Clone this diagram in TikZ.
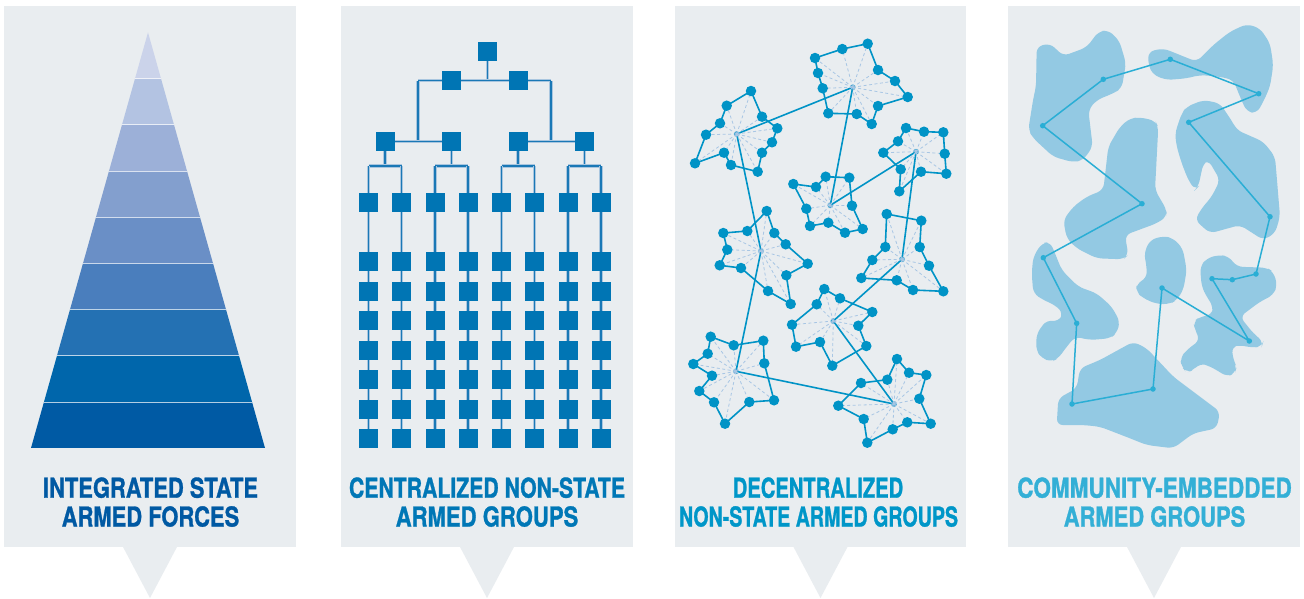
\documentclass[tikz,border=0pt]{standalone}
\usepackage{fontspec}
\usetikzlibrary{calc}
\newfontfamily\labelfont[BoldFeatures={FakeBold=1.2}]{TeX Gyre Heros}
\definecolor{panelbg}{HTML}{E9EDF0}
\definecolor{pyrA}{HTML}{CBD3EA}
\definecolor{pyrB}{HTML}{B3C3E2}
\definecolor{pyrC}{HTML}{9CB0D8}
\definecolor{pyrD}{HTML}{839FCE}
\definecolor{pyrE}{HTML}{6A8FC6}
\definecolor{pyrF}{HTML}{4A7EBD}
\definecolor{pyrG}{HTML}{2471B3}
\definecolor{pyrH}{HTML}{0066AB}
\definecolor{pyrI}{HTML}{005AA4}
\definecolor{txtA}{HTML}{0059A3}
\definecolor{txtB}{HTML}{0077B6}
\definecolor{txtC}{HTML}{0096C8}
\definecolor{txtD}{HTML}{33AFD6}
\definecolor{sqcol}{HTML}{0075B4}
\definecolor{treeline}{HTML}{1A78B6}
\definecolor{treehalo}{HTML}{A9C6DF}
\definecolor{netcol}{HTML}{0093C6}
\definecolor{spokecol}{HTML}{A8C6E4}
\definecolor{blobcol}{HTML}{93C9E3}
\definecolor{pathcol}{HTML}{2AAED5}
\pgfdeclarelayer{panel}
\pgfdeclarelayer{links}
\pgfsetlayers{panel,links,main}
\newcommand{\lbltext}[2]{\resizebox{#1pt}{20.3pt}{\labelfont\bfseries #2}}
\tikzset{
  lbl/.style={anchor=base, inner sep=0pt},
  sq/.style={rectangle, fill=sqcol, minimum size=19pt, inner sep=0pt},
  tline/.style={draw=treeline, line width=1.9pt, preaction={draw=treehalo, line width=3.6pt}},
  dot/.style={circle, fill=netcol, minimum size=10.5pt, inner sep=0pt},
  hub/.style={circle, fill=netcol, minimum size=5.5pt, inner sep=0pt},
  netline/.style={draw=netcol, line width=1.6pt, line join=round},
  spoke/.style={draw=spokecol, line width=0.8pt, dash pattern=on 3pt off 2.5pt},
  blob/.style={fill=blobcol, rounded corners=6pt},
  pdot/.style={circle, fill=pathcol, minimum size=5.5pt, inner sep=0pt},
  pline/.style={draw=pathcol, line width=1.5pt, line join=round}
}
\newcommand{\netcluster}[3]{%
  \node[hub] (#1c) at (#2) {};
  \foreach[count=\i] \x/\y in {#3} {\coordinate (#1-\i) at (\x,\y); \xdef\clustn{\i}}
  \foreach \j in {1,...,\clustn} {\draw[spoke] (#1c.center) -- (#1-\j);}
  \draw[netline] (#1-1) \foreach \j in {2,...,\clustn} {-- (#1-\j)} -- cycle;
  \foreach \j in {1,...,\clustn} {\node[dot] (#1n\j) at (#1-\j) {};}
}
\newcommand{\panelbox}[3]{%
  \begin{pgfonlayer}{panel}
  \fill[panelbg] (#1,6) rectangle (#2,547);
  \fill[panelbg] (#3-27.5,546) -- (#3+27.5,546) -- (#3,598) -- cycle;
  \end{pgfonlayer}
}
\begin{document}
\begin{tikzpicture}[x=1pt,y=-1pt]
\useasboundingbox (0,0) rectangle (1304,598);
\begin{pgfonlayer}{panel}
\fill[white] (0,0) rectangle (1304,598);
\end{pgfonlayer}
% panels
\panelbox{4}{296}{150}
\panelbox{341}{633}{487}
\panelbox{675}{966}{820.5}
\panelbox{1008}{1300}{1154}

% ---------- panel 1: pyramid ----------
\begin{scope}
\clip (148,32.4) -- (265,448) -- (31,448) -- cycle;
\foreach \c [count=\k from 0] in {pyrA,pyrB,pyrC,pyrD,pyrE,pyrF,pyrG,pyrH,pyrI}{
  \fill[\c] (25,32.4+46.18*\k) rectangle (270,32.4+46.18*\k+46.18);
}
\foreach \k in {1,...,8}{
  \draw[white, opacity=0.7, line width=0.6pt] (25,32.4+46.18*\k) -- (270,32.4+46.18*\k);
}
\end{scope}
\node[lbl, text=txtA] (t1a) at (150.5,497.7) {\lbltext{215}{INTEGRATED STATE}};
\node[lbl, text=txtA] (t1b) at (150.5,526.5) {\lbltext{177.5}{ARMED FORCES}};

% ---------- panel 2: hierarchy ----------
\node[sq] (R) at (487.5,51.5) {};
\node[sq] (L2a) at (451.5,80.5) {};
\node[sq] (L2b) at (518.5,80.5) {};
\foreach \x [count=\k] in {385,451.5,518,584.5}{
  \node[sq] (L3-\k) at (\x,141.5) {};
}
\foreach \x [count=\c] in {368.5,401.5,435,468,501.5,534.5,568,601}{
  \foreach \y [count=\r] in {202.5,261.5,291.5,320.5,350.5,379.5,409.5,438.5}{
    \node[sq] (C\c-\r) at (\x,\y) {};
  }
}
\coordinate (J1) at (418.25,80.5);
\coordinate (J2) at (551.25,80.5);
\begin{pgfonlayer}{links}
\draw[tline] (R.center) -- (R.center |- J1);
\draw[tline] (J1) -- (J2);
\draw[tline] (J1) -- (J1 |- L3-1.center);
\draw[tline] (J2) -- (J2 |- L3-4.center);
\draw[tline] (L3-1.center) -- (L3-2.center);
\draw[tline] (L3-3.center) -- (L3-4.center);
\foreach \k/\a/\b in {1/1/2,2/3/4,3/5/6,4/7/8}{
  \coordinate (K\k) at ($(L3-\k.center)+(0,24.5)$);
  \draw[tline] (L3-\k.center) -- (K\k);
  \draw[tline] (C\a-1.center |- K\k) -- (C\b-1.center |- K\k);
  \draw[tline] (C\a-1.center |- K\k) -- (C\a-1.center);
  \draw[tline] (C\b-1.center |- K\k) -- (C\b-1.center);
}
\foreach \c in {1,...,8}{
  \draw[tline] (C\c-1.center) -- (C\c-8.center);
}
\end{pgfonlayer}
\node[lbl, text=txtB] (t2a) at (487,497.7) {\lbltext{276}{CENTRALIZED NON-STATE}};
\node[lbl, text=txtB] (t2b) at (487,526.5) {\lbltext{182.5}{ARMED GROUPS}};

% ---------- panel 3: decentralized networks ----------
\netcluster{A}{736.7,134}{751/91, 726.7/105.7, 720/123.3, 706/134.7, 695/163.3, 724/152.7, 731/165, 757.7/171.7, 762/152.7, 772/142.3, 777.3/128.3, 762/116.7}
\netcluster{B}{852.7,87.3}{815/58, 842.3/49, 867.7/43.7, 878/70, 895/81, 907.7/97, 878/106, 871.7/124, 856.7/114, 828.3/113.3, 822.7/88.3, 818/73}
\netcluster{Cc}{916,151.7}{906/128, 924/131.7, 943.3/132.3, 944.7/153.7, 946.3/173.7, 921/171.7, 899.3/191.3, 900.7/169.3, 883.3/152.7, 898/141.3}
\netcluster{D}{830.3,205.3}{793.3/184, 816/187, 825.7/176.7, 849.3/177.7, 852/205.7, 862.7/229, 845/232.7, 828.3/222.7, 810/226, 806.3/208.7}
\netcluster{E}{761,251}{766.7/211, 747.3/231, 723.3/233, 727.3/249.7, 719.7/265.3, 741/268, 768/291, 790.7/304, 786.3/275.3, 807.7/263.7, 785.7/244.3, 774.3/233}
\netcluster{F}{902,259.3}{886.7/214, 921.3/220.7, 919.7/247, 929/265.7, 943.3/291.3, 913/290, 896.7/280.3, 861.3/278, 872.3/260, 885.3/247}
\netcluster{G}{833.3,321}{824.3/289, 840/298.3, 872.3/312, 858.3/325.7, 866.3/346, 832.3/365.7, 820/342, 796/346.7, 792/324.7, 816.7/304.3}
\netcluster{H}{736,371.3}{710.7/336.7, 733.7/345.3, 763.3/340.7, 764.3/363.3, 774/400.3, 749.3/402, 725/423.7, 714/402.3, 699.3/391, 712/375.7, 693.3/364, 707.7/353.7}
\netcluster{I}{894,404}{897/359, 909/372.7, 926.3/375, 919.3/398.7, 930.7/423.7, 907.3/422.3, 892.7/429.3, 867.3/442.7, 863.7/419, 838.3/405.7, 861/383, 887.3/379.7}
\begin{pgfonlayer}{links}
\foreach \a/\b in {A/B, A/E, E/H, H/I, I/G, G/F, F/Cc, Cc/D, D/B}{
  \draw[netline] (\a c.center) -- (\b c.center);
}
\end{pgfonlayer}
\node[lbl, text=txtC] (t3a) at (818,497.7) {\lbltext{170.5}{DECENTRALIZED}};
\node[lbl, text=txtC] (t3b) at (818.5,526.5) {\lbltext{279}{NON-STATE ARMED GROUPS}};

% ---------- panel 4: community-embedded ----------
\fill[blob] (1036.7,46.7) -- (1050,43.3) -- (1063.3,56) -- (1086.7,47.3) -- (1098.3,31.7) -- (1108.3,30) -- (1119.3,40.7) -- (1126,63.3) -- (1121.7,88.3) -- (1113.3,93.3) -- (1096.7,100) -- (1088.3,110) -- (1092.7,146.7) -- (1083.3,160) -- (1073.3,162.3) -- (1053.3,156.7) -- (1033.3,138.3) -- (1028.3,130) -- (1033.3,98.3) -- (1036,86.7) -- cycle;
\fill[blob] (1148.3,51.7) -- (1163.3,48.3) -- (1196.7,61.7) -- (1213.3,45) -- (1230,31.7) -- (1246.7,24) -- (1260,28.3) -- (1270,43.3) -- (1273.3,65) -- (1270,86.7) -- (1263.3,101.7) -- (1256.7,113.3) -- (1246.7,111.7) -- (1240,96.7) -- (1233.3,80) -- (1220,76.7) -- (1200,75) -- (1186.7,78.3) -- (1166.7,80) -- (1153.3,75) -- (1148.3,65) -- cycle;
\fill[blob] (1140,117.3) -- (1155,120.7) -- (1158.3,126.7) -- (1155,190) -- (1166.7,210) -- (1166.7,216.7) -- (1156.7,223.3) -- (1125,235) -- (1128.3,255) -- (1123.3,259.3) -- (1096.7,258.3) -- (1076.7,248.3) -- (1066.7,238.3) -- (1063.3,220) -- (1073.3,206.7) -- (1086.7,196.7) -- (1103.3,190) -- (1108.3,146.7) -- (1120,126.7) -- (1130,118.3) -- cycle;
\fill[blob] (1186.7,106.7) -- (1203.3,100) -- (1220,103.3) -- (1233.3,123.3) -- (1236.7,130) -- (1263.3,141.7) -- (1275,156.7) -- (1276.7,176.7) -- (1280,216.7) -- (1275,233.3) -- (1263.3,240) -- (1240,225) -- (1210,233.3) -- (1195,220) -- (1201.7,208.3) -- (1211.7,196.7) -- (1220,180) -- (1208.3,160) -- (1203.3,163.3) -- (1198.3,186.7) -- (1195,190) -- (1188.3,180) -- (1181.7,163.3) -- (1176.7,146.7) -- (1175,133.3) -- (1181.7,113.3) -- cycle;
\fill[blob] (1041.7,243.3) -- (1050,241.7) -- (1055,253.3) -- (1061.7,270) -- (1078.3,286.7) -- (1096.7,293.3) -- (1111.7,306.7) -- (1120,321.7) -- (1116.7,333.3) -- (1110,338.3) -- (1090,340) -- (1075,336.7) -- (1066.7,346.7) -- (1058.3,358.3) -- (1051.7,361.7) -- (1041.7,358.3) -- (1036,350) -- (1036.7,333.3) -- (1046.7,320) -- (1058.3,321.7) -- (1063.3,313.3) -- (1055,305) -- (1043.3,300) -- (1033.3,293.3) -- (1031.7,273.3) -- (1033.3,256.7) -- cycle;
\fill[blob] (1150,240) -- (1163.3,236) -- (1173.3,238.3) -- (1182.7,248.3) -- (1186.7,270) -- (1183.3,290) -- (1176.7,300) -- (1170,304) -- (1156.7,304) -- (1143.3,298.3) -- (1136,291.7) -- (1136.7,283.3) -- (1146.7,278.3) -- (1146.7,266.7) -- (1144,253.3) -- cycle;
\fill[blob] (1206.7,258.3) -- (1218.3,255) -- (1228.3,256) -- (1236.7,266.7) -- (1266.7,267.7) -- (1273.3,271.7) -- (1277.3,285) -- (1273.3,295) -- (1260,301.7) -- (1240,316.7) -- (1253.3,333.3) -- (1263.3,341.7) -- (1261.7,346.7) -- (1251.7,347.7) -- (1240,345) -- (1231.7,346.7) -- (1233.3,360) -- (1236.7,366.7) -- (1235,373.3) -- (1226.7,376.7) -- (1216.7,370) -- (1206.7,365) -- (1200,363.3) -- (1193.3,370) -- (1186.7,372.7) -- (1181.7,366.7) -- (1180,358.3) -- (1186.7,350) -- (1200,340) -- (1195,330) -- (1193.3,321.7) -- (1200,316.7) -- (1211.7,315) -- (1213.3,306.7) -- (1206.7,296.7) -- (1201.7,286.7) -- (1200,266.7) -- cycle;
\fill[blob] (1058.3,398.3) -- (1076.7,388.3) -- (1080,368.3) -- (1100,360) -- (1133.3,341.7) -- (1146.7,348.3) -- (1173.3,376.7) -- (1220,411.7) -- (1216.7,428.3) -- (1193.3,433.3) -- (1173.3,448.3) -- (1146.7,445) -- (1130,438.3) -- (1100,426.7) -- (1083.3,425) -- (1056.7,425) -- cycle;
\foreach \x/\y [count=\i] in {1042.7/125.7, 1103.3/79.3, 1170.3/59.3, 1258.7/93.7, 1188.7/122.3, 1270/216.7, 1256/274, 1232.3/279.7, 1212/278.7, 1249.3/341, 1162/288, 1153/389, 1072/404, 1076.7/323.3, 1043.3/257.7, 1142/203.7}{
  \node[pdot] (P\i) at (\x,\y) {};
}
\draw[pline] (P1.center) \foreach \i in {2,...,16}{-- (P\i.center)} -- cycle;
\node[lbl, text=txtD] (t4a) at (1154.5,497.7) {\lbltext{274.5}{COMMUNITY-EMBEDDED}};
\node[lbl, text=txtD] (t4b) at (1154.5,526.5) {\lbltext{181.5}{ARMED GROUPS}};
\end{tikzpicture}
\end{document}
